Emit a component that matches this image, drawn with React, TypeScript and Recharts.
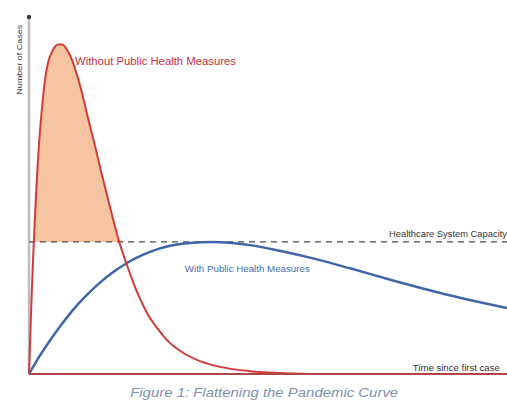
import React from 'react';
import { ComposedChart, Line, Area, XAxis, YAxis, ReferenceLine, ReferenceDot } from 'recharts';

// time since first case (0..100) vs number of cases (0..100)
const withoutMeasures = [
  { t: 0, cases: 0 }, { t: 0.31, cases: 12.3 }, { t: 0.52, cases: 20.7 }, { t: 0.84, cases: 31.9 },
  { t: 1.21, cases: 43.1 }, { t: 1.63, cases: 54.3 }, { t: 2.05, cases: 63.6 }, { t: 2.62, cases: 73.1 },
  { t: 3.35, cases: 82.4 }, { t: 3.97, cases: 87.1 }, { t: 5.02, cases: 90.8 }, { t: 6.28, cases: 92.4 },
  { t: 7.11, cases: 92.2 }, { t: 7.95, cases: 90.8 }, { t: 9.0, cases: 88.0 }, { t: 10.04, cases: 83.8 },
  { t: 11.09, cases: 78.7 }, { t: 12.34, cases: 71.7 }, { t: 13.81, cases: 63.9 }, { t: 15.27, cases: 55.7 },
  { t: 16.95, cases: 46.8 }, { t: 18.62, cases: 38.1 }, { t: 20.71, cases: 29.7 }, { t: 22.59, cases: 23.0 },
  { t: 24.69, cases: 17.1 }, { t: 26.78, cases: 12.9 }, { t: 28.87, cases: 9.5 }, { t: 32.64, cases: 5.6 },
  { t: 35.77, cases: 3.6 }, { t: 39.96, cases: 2.0 }, { t: 46.23, cases: 0.8 }, { t: 52.51, cases: 0.3 },
  { t: 60.88, cases: 0 }, { t: 64.0, cases: 0 },
];

const withMeasures = [
  { t: 0, cases: 0 }, { t: 1.26, cases: 2.9 }, { t: 2.3, cases: 5.2 }, { t: 4.39, cases: 9.4 },
  { t: 6.49, cases: 13.3 }, { t: 9.62, cases: 18.6 }, { t: 12.76, cases: 23.0 }, { t: 14.85, cases: 25.6 },
  { t: 17.78, cases: 28.7 }, { t: 20.5, cases: 31.1 }, { t: 23.22, cases: 33.0 }, { t: 25.31, cases: 34.2 },
  { t: 29.5, cases: 35.9 }, { t: 33.68, cases: 36.7 }, { t: 38.49, cases: 37.0 }, { t: 46.23, cases: 36.1 },
  { t: 53.14, cases: 34.3 }, { t: 60.25, cases: 32.1 }, { t: 67.15, cases: 29.6 }, { t: 76.15, cases: 26.2 },
  { t: 86.61, cases: 22.5 }, { t: 100, cases: 18.5 },
];

const capacity = 37.0;

const labelWithout = 'Without Public Health Measures';
const labelWith = 'With Public Health Measures';
const labelCapacity = 'Healthcare System Capacity';
const labelTime = 'Time since first case';
const labelYAxis = 'Number of Cases';
const caption = 'Figure 1: Flattening the Pandemic Curve';

const overflowArea = withoutMeasures.map((d) => ({
  t: d.t,
  range: [capacity, Math.max(d.cases, capacity)],
}));

type TxtOpts = {
  value: string;
  anchor?: 'start' | 'middle' | 'end';
  fill: string;
  size: number;
  len?: number;
  italic?: boolean;
  rotate?: boolean;
};

const makeText = (o: TxtOpts) => (props: any) => {
  const vb = props.viewBox || {};
  const x = (vb.x ?? 0) + (vb.width ?? 0) / 2;
  const y = (vb.y ?? 0) + (vb.height ?? 0) / 2;
  return (
    <text
      x={x}
      y={y}
      textAnchor={o.anchor || 'start'}
      dominantBaseline="central"
      fill={o.fill}
      fontSize={o.size}
      fontStyle={o.italic ? 'italic' : 'normal'}
      fontFamily="'Liberation Sans', Arial, sans-serif"
      textLength={o.len}
      lengthAdjust="spacingAndGlyphs"
      transform={o.rotate ? `rotate(-90 ${x} ${y})` : undefined}
    >
      {o.value}
    </text>
  );
};

export default function App() {
  return (
    <div style={{ position: 'absolute', left: 0, top: 0, width: 507, height: 405, background: '#fff' }}>
      <ComposedChart width={507} height={405} margin={{ top: 17, right: 0, left: 29, bottom: 0 }}>
        <XAxis
          type="number"
          dataKey="t"
          domain={[0, 100]}
          height={31}
          tick={false}
          tickLine={false}
          axisLine={{ stroke: '#b04545', strokeWidth: 2 }}
        />
        <YAxis type="number" domain={[0, 100]} width={0} tick={false} tickLine={false} axisLine={false} />
        <ReferenceLine x={0} stroke="#bdbdbd" strokeWidth={2.5} ifOverflow="visible" />
        <Area
          data={overflowArea}
          dataKey="range"
          type="monotone"
          stroke="none"
          fill="#f7c4a2"
          fillOpacity={1}
          isAnimationActive={false}
        />
        <ReferenceLine y={capacity} stroke="#4a4a4a" strokeWidth={1.3} strokeDasharray="6 5" />
        <Line
          data={withMeasures}
          dataKey="cases"
          type="monotone"
          stroke="#3f66a8"
          strokeWidth={2.5}
          dot={false}
          isAnimationActive={false}
        />
        <Line
          data={withoutMeasures}
          dataKey="cases"
          type="monotone"
          stroke="#d23a3c"
          strokeWidth={2}
          dot={false}
          isAnimationActive={false}
        />
        <ReferenceDot x={0} y={100} r={2.2} fill="#333" stroke="none" ifOverflow="visible" />
        <ReferenceDot x={9.62} y={87.4} r={0} stroke="none" fill="none" ifOverflow="visible"
          label={{ content: makeText({ value: labelWithout, fill: '#cc2e3e', size: 10, len: 161 }) }} />
        <ReferenceDot x={32.6} y={29.4} r={0} stroke="none" fill="none" ifOverflow="visible"
          label={{ content: makeText({ value: labelWith, fill: '#4a6cb0', size: 8.5, len: 125 }) }} />
        <ReferenceDot x={100} y={39.2} r={0} stroke="none" fill="none" ifOverflow="visible"
          label={{ content: makeText({ value: labelCapacity, fill: '#333', size: 8.5, len: 118, anchor: 'end' }) }} />
        <ReferenceDot x={98.5} y={1.68} r={0} stroke="none" fill="none" ifOverflow="visible"
          label={{ content: makeText({ value: labelTime, fill: '#333', size: 8.5, len: 87, anchor: 'end' }) }} />
        <ReferenceDot x={-1.9} y={88} r={0} stroke="none" fill="none" ifOverflow="visible"
          label={{ content: makeText({ value: labelYAxis, fill: '#333', size: 8, len: 70, anchor: 'middle', rotate: true }) }} />
        <ReferenceDot x={49.2} y={-5.3} r={0} stroke="none" fill="none" ifOverflow="visible"
          label={{ content: makeText({ value: caption, fill: '#8090aa', size: 13, len: 268, anchor: 'middle', italic: true }) }} />
      </ComposedChart>
    </div>
  );
}
